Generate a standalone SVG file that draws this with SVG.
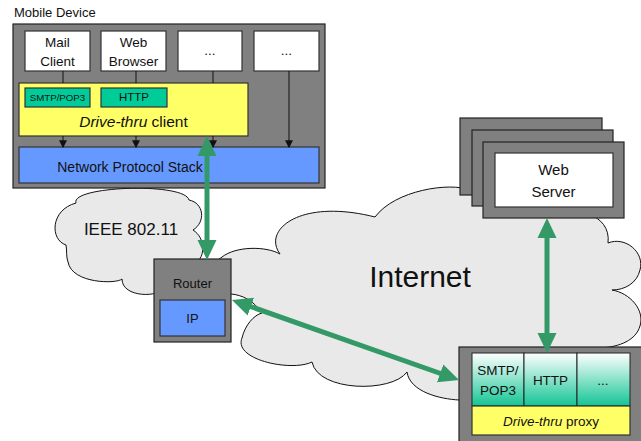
<svg xmlns="http://www.w3.org/2000/svg" width="641" height="441" viewBox="0 0 641 441">
<style>
  text { font-family: "Liberation Sans", Arial, sans-serif; fill: #111; }
  .gray { fill: #808080; stroke: #222; stroke-width: 1.2; }
  .white { fill: #ffffff; stroke: #333; stroke-width: 1.2; }
  .yellow { fill: #ffff66; stroke: #333; stroke-width: 1.2; }
  .blue { fill: #6699ff; stroke: #333; stroke-width: 1.2; }
  .teal { fill: #00cc99; stroke: #333; stroke-width: 1.2; }
  .cloud { fill: #e9e9e9; stroke: #111; stroke-width: 1; }
  .thin { stroke: #111; stroke-width: 1; fill: none; }
  .green { stroke: #339966; stroke-width: 5; fill: none; }
  .c { text-anchor: middle; }
</style>
<defs>
  <marker id="ah" markerUnits="userSpaceOnUse" markerWidth="20" markerHeight="20" refX="8" refY="9.5" orient="auto-start-reverse" viewBox="0 0 20 19">
    <path d="M0,0 L20,9.5 L0,19 z" fill="#339966"/>
  </marker>
  <marker id="sa" markerUnits="userSpaceOnUse" markerWidth="8" markerHeight="8" refX="6" refY="3.5" orient="auto" viewBox="0 0 7 7">
    <path d="M0,0 L7,3.5 L0,7 z" fill="#111"/>
  </marker>
  <linearGradient id="tg" x1="0" y1="0" x2="0" y2="1">
    <stop offset="0" stop-color="#ffffff"/>
    <stop offset="1" stop-color="#13c594"/>
  </linearGradient>
</defs>

<g id="cloud-ieee">
  <path class="cloud" d="M76,203 C70,186 185,182 189,200 C204,203 206,222 193,230 C206,238 205,258 196,262 L175,275 L165,287 C160,298 122,298 122,279 C117,284 72,284 68,262 C66,257 67,250 66,245 C50,240 50,210 76,203 Z"/>
  <text x="131" y="235" font-size="17" class="c">IEEE 802.11</text>
</g>

<g id="cloud-internet">
  <path class="cloud" d="M215,262 L222,257 C236,246 266,246 280,254 C262,230 300,198 375,217 C395,190 450,182 470,190 L590,215 C600,218 610,228 608,243 C625,236 645,252 640,270 C637,283 625,290 612,290 C630,293 645,310 640,326 C636,340 620,347 600,348 L600,370 L470,400 L459,400 C440,399 410,392 407,372 C392,393 318,392 312,362 C292,372 233,360 242,338 C245,325 254,315 262,313 C253,300 242,295 231,294 L215,294 Z"/>
  <text x="420" y="287" font-size="30" class="c">Internet</text>
</g>

<g id="mobile-device">
  <text x="14" y="17" font-size="13">Mobile Device</text>
  <rect class="gray" x="13" y="24" width="312" height="164"/>
</g>

<g id="mail-client">
  <rect class="white" x="25" y="31" width="65" height="40"/>
  <text x="57.5" y="47" font-size="13.5" class="c">Mail</text>
  <text x="57.5" y="66" font-size="13.5" class="c">Client</text>
</g>
<g id="web-browser">
  <rect class="white" x="101" y="31" width="65" height="40"/>
  <text x="133.5" y="47" font-size="13.5" class="c">Web</text>
  <text x="133.5" y="66" font-size="13.5" class="c">Browser</text>
</g>
<g id="app3">
  <rect class="white" x="178" y="31" width="64" height="40"/>
  <text x="210" y="55" font-size="13.5" class="c">...</text>
</g>
<g id="app4">
  <rect class="white" x="254" y="31" width="65" height="40"/>
  <text x="286.5" y="55" font-size="13.5" class="c">...</text>
</g>

<g id="drive-thru-client">
  <rect class="yellow" x="19" y="83" width="229" height="53"/>
  <text x="133.5" y="127" font-size="15.5" class="c"><tspan font-style="italic">Drive-thru</tspan> client</text>
</g>
<g id="smtp-pop3-client">
  <rect class="teal" x="25" y="88" width="65" height="19"/>
  <text x="57.5" y="101" font-size="9.7" class="c">SMTP/POP3</text>
</g>
<g id="http-client">
  <rect class="teal" x="101" y="88" width="66" height="19"/>
  <text x="134" y="101" font-size="11.5" class="c">HTTP</text>
</g>

<g id="network-protocol-stack">
  <rect class="blue" x="19" y="147" width="300" height="36"/>
  <text x="130" y="172" font-size="14" class="c">Network Protocol Stack</text>
</g>

<g id="router">
  <rect class="gray" x="154" y="259" width="77" height="83"/>
  <text x="192.5" y="288" font-size="13" class="c">Router</text>
  <rect class="blue" x="160" y="300" width="65" height="36" stroke-width="1.5"/>
  <text x="192.5" y="323" font-size="13" class="c">IP</text>
</g>

<g id="web-server">
  <rect class="gray" x="460" y="118" width="142" height="77"/>
  <rect class="gray" x="472" y="130" width="141" height="76"/>
  <rect class="gray" x="483" y="142" width="141" height="76"/>
  <rect class="white" x="495" y="153" width="118" height="54"/>
  <text x="553.5" y="175" font-size="15" class="c">Web</text>
  <text x="553.5" y="197" font-size="15" class="c">Server</text>
</g>

<g id="drive-thru-proxy">
  <rect class="gray" x="459" y="347" width="190" height="100"/>
  <rect x="472" y="353" width="52" height="53" fill="url(#tg)" stroke="#222" stroke-width="1"/>
  <rect x="524" y="353" width="53" height="53" fill="url(#tg)" stroke="#222" stroke-width="1"/>
  <rect x="577" y="353" width="53" height="53" fill="url(#tg)" stroke="#222" stroke-width="1"/>
  <rect class="yellow" x="472" y="406" width="158" height="29" stroke="#222" stroke-width="1"/>
  <text x="498" y="375" font-size="13.5" class="c">SMTP/</text>
  <text x="498" y="395" font-size="13.5" class="c">POP3</text>
  <text x="550.5" y="385" font-size="13.5" class="c">HTTP</text>
  <text x="603" y="385" font-size="13.5" class="c">...</text>
  <text x="551" y="426" font-size="13.5" class="c"><tspan font-style="italic">Drive-thru</tspan> proxy</text>
</g>

<g id="connectors">
  <line class="thin" x1="63" y1="71" x2="63" y2="83"/>
  <line class="thin" x1="136" y1="71" x2="136" y2="83"/>
  <line class="thin" x1="213" y1="71" x2="213" y2="83"/>
  <line class="thin" x1="63" y1="136" x2="63" y2="147" marker-end="url(#sa)"/>
  <line class="thin" x1="136" y1="136" x2="136" y2="147" marker-end="url(#sa)"/>
  <line class="thin" x1="213" y1="136" x2="213" y2="147" marker-end="url(#sa)"/>
  <line class="thin" x1="289" y1="71" x2="289" y2="147" marker-end="url(#sa)"/>
  <line class="green" x1="207" y1="148" x2="207" y2="248" marker-start="url(#ah)" marker-end="url(#ah)"/>
  <line class="green" x1="547" y1="230" x2="547" y2="341" marker-start="url(#ah)" marker-end="url(#ah)"/>
  <line class="green" x1="243.3" y1="304" x2="447.7" y2="376" marker-start="url(#ah)" marker-end="url(#ah)"/>
</g>
</svg>
